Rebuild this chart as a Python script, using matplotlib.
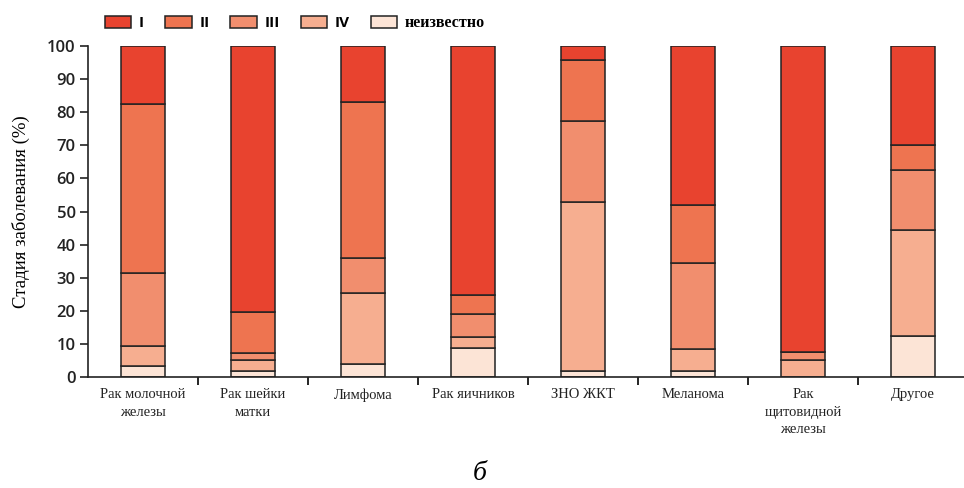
import numpy as np
import matplotlib
matplotlib.use("Agg")
import matplotlib.pyplot as plt
from matplotlib.patches import Patch

categories = ["Рак молочной\nжелезы", "Рак шейки\nматки", "Лимфома", "Рак яичников",
              "ЗНО ЖКТ", "Меланома", "Рак\nщитовидной\nжелезы", "Другое"]
stages = ["I", "II", "III", "IV", "неизвестно"]

# Share of patients by stage (%), per tumour type
unknown = [3.3, 1.9, 4.0, 8.7, 1.9, 1.9, 0.0, 12.4]
stage_iv = [6.1, 3.1, 21.5, 3.5, 51.0, 6.6, 5.1, 32.1]
stage_iii = [22.0, 2.3, 10.5, 6.8, 24.5, 26.0, 2.5, 18.0]
stage_ii = [51.2, 12.3, 47.2, 5.8, 18.5, 17.5, 0.0, 7.6]
stage_i = [17.4, 80.4, 16.8, 75.2, 4.1, 48.0, 92.4, 29.9]

colors = {"I": "#E8432F", "II": "#EE7450", "III": "#F18E6E",
          "IV": "#F6AE90", "неизвестно": "#FCE4D6"}

fig = plt.figure(figsize=(9.64, 4.88), dpi=100)
ax = fig.add_axes([88 / 964, 1 - 377 / 488, (964 - 88) / 964, (377 - 46) / 488])

x = np.arange(len(categories))
width = 0.4
bottom = np.zeros(len(categories))
layers = [("неизвестно", unknown), ("IV", stage_iv), ("III", stage_iii),
          ("II", stage_ii), ("I", stage_i)]
for name, vals in layers:
    vals = np.array(vals)
    ax.bar(x, vals, width, bottom=bottom, color=colors[name],
           edgecolor="#222222", linewidth=1.1, zorder=2)
    bottom += vals

ax.set_ylim(0, 100)
ax.set_xlim(-0.5, 7.464)
ax.set_yticks(np.arange(0, 101, 10))
ax.tick_params(axis="y", direction="out", length=6, width=1.2, pad=3,
               labelsize=12, colors="#222222")
for lbl in ax.get_yticklabels():
    lbl.set_fontfamily("Open Sans")
    lbl.set_fontweight("semibold")

ax.set_xticks(x)
ax.set_xticklabels(categories, fontfamily="Liberation Serif", fontsize=10.5,
                   linespacing=1.45, va="top")
ax.tick_params(axis="x", length=0, pad=8, colors="#222222")
ax.set_xticks(np.arange(0.5, 7.5, 1), minor=True)
ax.tick_params(axis="x", which="minor", direction="out", length=6, width=1.2)

for side in ("top", "right"):
    ax.spines[side].set_visible(False)
for side in ("left", "bottom"):
    ax.spines[side].set_linewidth(1.2)
    ax.spines[side].set_color("#222222")

ax.set_ylabel("Стадия заболевания (%)", fontfamily="Liberation Serif",
              fontsize=13.5, labelpad=12)

handles = [Patch(facecolor=colors[s], edgecolor="#222222", linewidth=1.1) for s in stages]
leg = fig.legend(handles, stages, loc="center left", bbox_to_anchor=(91 / 964, 1 - 23 / 488),
                 ncol=5, frameon=False, handlelength=1.75, handleheight=0.85,
                 columnspacing=1.35, handletextpad=0.5,
                 prop={"family": "Open Sans", "weight": "bold", "size": 11})
leg.get_texts()[-1].set_fontfamily("Liberation Serif")
leg.get_texts()[-1].set_fontsize(11.5)

fig.text(0.498, 0.004, "б", fontfamily="Liberation Serif", style="italic",
         fontsize=20, ha="center", va="bottom")

fig.savefig("out.png", dpi=100, facecolor="white")
